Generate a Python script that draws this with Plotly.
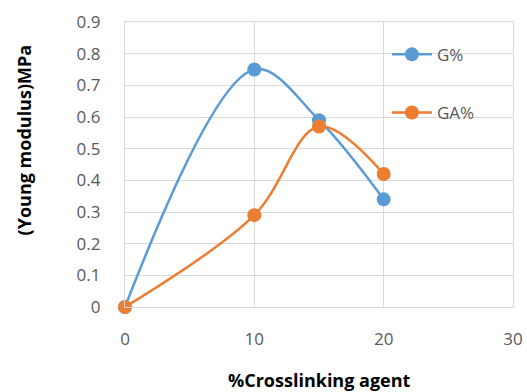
import plotly.graph_objects as go

x_vals = [0, 10, 15, 20]
g_vals = [0, 0.75, 0.59, 0.34]
ga_vals = [0, 0.29, 0.57, 0.42]
x_ticks = [0, 10, 20, 30]
y_ticks = [0, 0.1, 0.2, 0.3, 0.4, 0.5, 0.6, 0.7, 0.8, 0.9]
x_title = "<b>%Crosslinking agent</b>"
y_title = "<b>(Young modulus)MPa</b>"

fig = go.Figure()
fig.add_trace(go.Scatter(x=x_vals, y=g_vals, name="G%", mode="lines+markers", legendgroup="g",
                         line=dict(color="#5B9BD5", width=2.5, shape="spline", smoothing=1.0),
                         marker=dict(size=14, color="#5B9BD5"), cliponaxis=False))
fig.add_trace(go.Scatter(x=x_vals, y=ga_vals, name="GA%", mode="lines+markers", legendgroup="ga",
                         line=dict(color="#ED7D31", width=2.5, shape="spline", smoothing=1.0),
                         marker=dict(size=14, color="#ED7D31"), cliponaxis=False))

fig.update_layout(
    width=527, height=392,
    margin=dict(l=125, r=14, t=22, b=85),
    plot_bgcolor="white", paper_bgcolor="white",
    font=dict(family="Open Sans, Liberation Sans, sans-serif", color="#595959", size=17),
    legend=dict(x=0.675, y=0.948, xanchor="left", yanchor="top", bgcolor="rgba(0,0,0,0)",
                font=dict(size=17, color="#595959"), tracegroupgap=33, itemwidth=40),
    showlegend=True,
    annotations=[
        dict(text=x_title, xref="paper", yref="paper", x=0.5, y=-0.256, xanchor="center", yanchor="middle",
             showarrow=False, font=dict(size=18, color="#000000")),
        dict(text=y_title, xref="paper", yref="paper", x=-0.26, y=0.585, xanchor="center", yanchor="middle",
             textangle=-90, showarrow=False, font=dict(size=18, color="#000000")),
    ],
)
fig.update_xaxes(range=[0, 30], tickvals=x_ticks, showgrid=True, gridcolor="#D9D9D9", gridwidth=1.3,
                 zeroline=False, showline=True, linecolor="#D9D9D9", linewidth=1.3, mirror=True,
                 ticks="", ticklabelstandoff=16, automargin=False)
fig.update_yaxes(range=[0, 0.9], tickvals=y_ticks, tickformat="~g", showgrid=True, gridcolor="#D9D9D9", gridwidth=1.3,
                 zeroline=False, showline=True, linecolor="#D9D9D9", linewidth=1.3, mirror=True,
                 ticks="", ticklabelstandoff=20, automargin=False)

fig.write_html("out.html")
